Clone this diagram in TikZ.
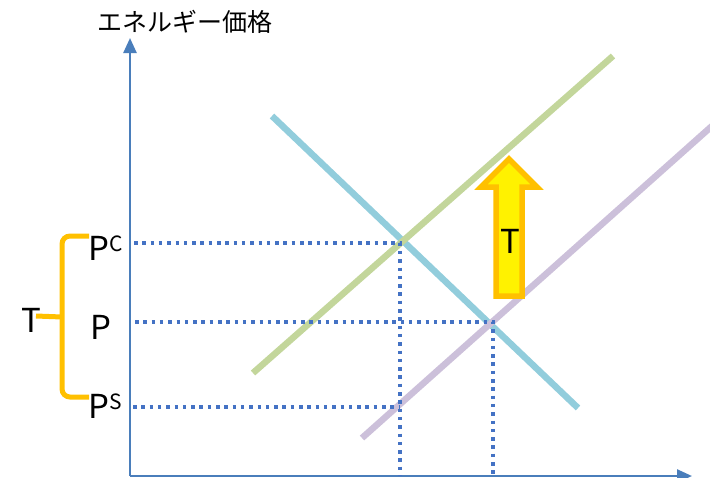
\documentclass[tikz,border=0pt]{standalone}
\usepackage{fontspec}
\setmainfont{Noto Sans CJK JP}
\usetikzlibrary{arrows.meta}
\definecolor{axisblue}{HTML}{4A7EBB}
\definecolor{dotblue}{HTML}{4472C4}
\definecolor{demcol}{HTML}{92CDDC}
\definecolor{supcol}{HTML}{C3D69B}
\definecolor{pursup}{HTML}{CCC0DA}
\definecolor{braceor}{HTML}{FFC000}
\tikzset{
    axis/.style={-{Triangle[length=15pt,width=13pt]}, draw=axisblue, line width=2.5pt},
    curve/.style={line width=6.5pt},
    guide/.style={draw=dotblue, line width=3.5pt, dash pattern=on 3.5pt off 4.8pt},
    price/.style={inner sep=0pt, font=\fontsize{33}{33}\selectfont},
    lbl/.style={inner sep=0pt, font=\fontsize{33}{33}\selectfont},
}

\begin{document}
\begin{tikzpicture}[x=1pt,y=-1pt]
    \useasboundingbox (0,0) rectangle (710,477);
    % axes
    \coordinate (O) at (130,476);
    \coordinate (ytop) at (130,38);
    \coordinate (xend) at (692,476);
    \draw[axis] (O) -- (ytop);
    \draw[axis] (O) -- (xend);
    \node[lbl, font=\fontsize{25}{25}\selectfont] (title) at (185,22) {エネルギー価格};
    % curves
    \coordinate (d1) at (272,116);
    \coordinate (d2) at (578,408);
    \coordinate (s1) at (253,373);
    \coordinate (s2) at (613,56);
    \coordinate (p1) at (362,438);
    \coordinate (p2) at (712,126);
    \draw[curve, demcol] (d1) -- (d2);
    \draw[curve, supcol] (s1) -- (s2);
    \draw[curve, pursup] (p1) -- (p2);
    % guide lines
    \coordinate (Ec) at (400,243);
    \coordinate (E) at (493,322);
    \coordinate (Es) at (400,407);
    \coordinate (yc) at (134,243);
    \coordinate (yp) at (135,322);
    \coordinate (ys) at (133,407);
    \coordinate (xc) at (400,476);
    \coordinate (xp) at (493,476);
    \draw[guide] (yc) -- (Ec) -- (xc);
    \draw[guide] (yp) -- (E) -- (xp);
    \draw[guide] (ys) -- (Es);
    % labels
    \node[price, anchor=west] (PC) at (88,248) {P\raisebox{9pt}{\fontsize{21}{21}\selectfont C}};
    \node[price, anchor=west] (P) at (90,327) {P};
    \node[price, anchor=west] (PS) at (88,406) {P\raisebox{9pt}{\fontsize{21}{21}\selectfont S}};
    \node[lbl] (T) at (31,320) {T};
    % brace
    \coordinate (b1) at (89,236);
    \coordinate (b2) at (89,397);
    \coordinate (bm) at (62,317);
    \draw[braceor, line width=5pt, rounded corners=8pt] (b1) -- (62,236) -- (62,397) -- (b2);
    \draw[braceor, line width=5pt] (bm) -- (36,316);
    % tax arrow
    \draw[braceor, fill=yellow, line width=5.5pt, line join=miter]
        (496,296) -- (496,187) -- (481,187) -- (509,159) -- (537,187)
        -- (522,187) -- (522,296) -- cycle;
    \node[lbl] (Tax) at (510,241) {T};
\end{tikzpicture}
\end{document}
